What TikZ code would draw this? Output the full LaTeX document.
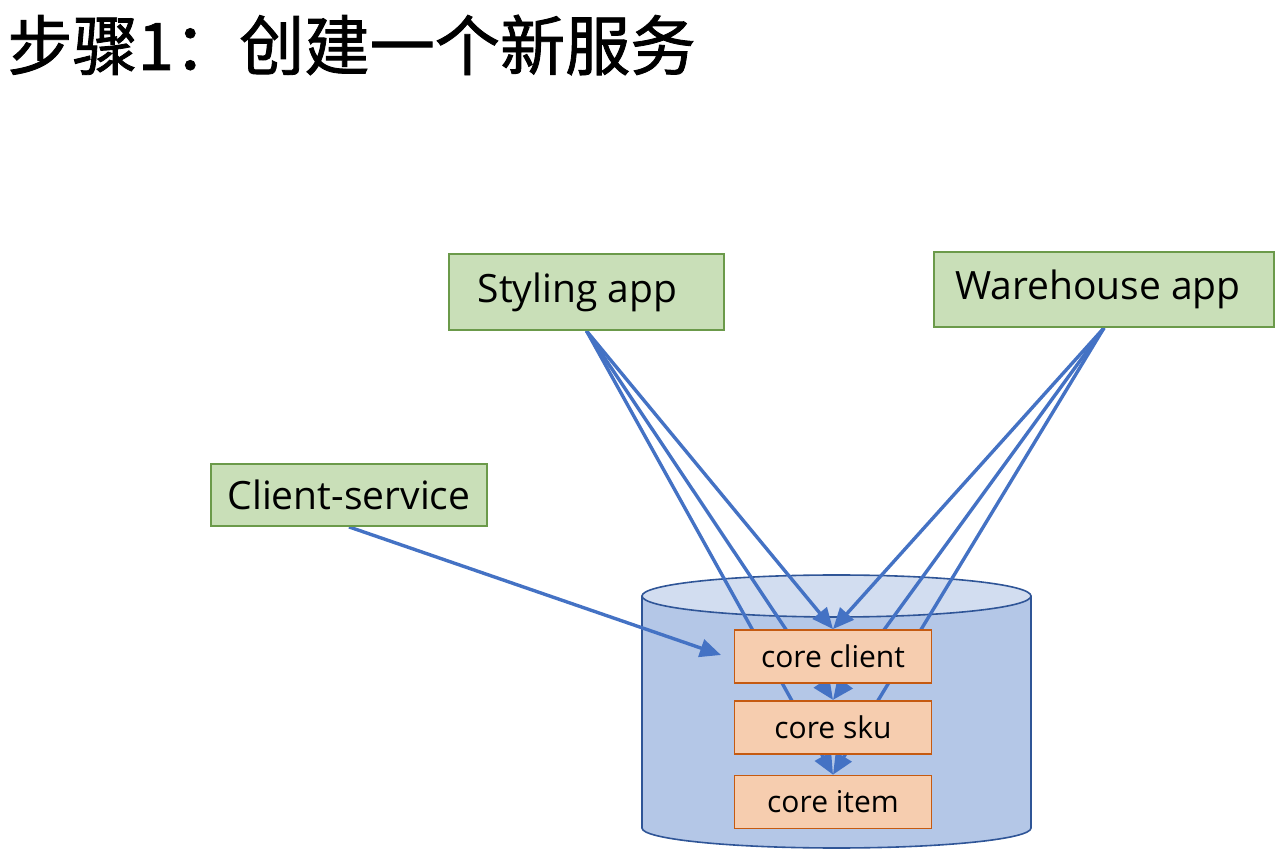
\documentclass[tikz,border=0pt]{standalone}
\usepackage{fontspec}
\setmainfont{Open Sans}
\newfontfamily\cjk[FakeBold=1.3]{Noto Sans CJK SC}
\usetikzlibrary{arrows.meta,positioning,backgrounds}
\definecolor{appfill}{HTML}{C9DFB8}
\definecolor{appline}{HTML}{6B9A4A}
\definecolor{corefill}{HTML}{F6CDAF}
\definecolor{coreline}{HTML}{C55A11}
\definecolor{cylbody}{HTML}{B4C7E7}
\definecolor{cyltop}{HTML}{D2DDF0}
\definecolor{cylline}{HTML}{2F5597}
\definecolor{linkblue}{HTML}{4472C4}

\begin{document}
\begin{tikzpicture}[x=0.5pt,y=-0.5pt,>={Triangle[length=10.5pt,width=9pt]},
    app/.style={draw=appline,fill=appfill,line width=0.9pt,inner sep=0pt,font=\fontsize{19.5}{22}\selectfont},
    core/.style={draw=coreline,fill=corefill,line width=0.9pt,minimum width=98.5pt,minimum height=26.5pt,inner sep=0pt,font=\fontsize{15}{18}\selectfont},
    link/.style={linkblue,line width=1.7pt}]

    \useasboundingbox (0,0) rectangle (1286,860);

    \node[anchor=west,inner sep=0pt,font=\cjk\fontsize{32.6}{38}\selectfont] (title) at (7,45) {步骤1：创建一个新服务};

    \node[app,minimum width=137.5pt,minimum height=38pt] (sty) at (586.5,292) {Styling app\hspace*{9pt}};
    \node[app,minimum width=170pt,minimum height=37.5pt] (wh) at (1104,289.5) {Warehouse app\hspace*{6pt}};
    \node[app,minimum width=138pt,minimum height=31pt] (csv) at (349,495) {Client-service};

    \node[core] (cc) at (833,656.5) {core client};
    \node[core] (ck) [below=8pt of cc] {core sku};
    \node[core] (ci) [below=10pt of ck] {core item};

    \coordinate (cin) at (721,655);

    \begin{pgfonlayer}{background}
        % database
        \filldraw[fill=cylbody,draw=cylline,line width=0.8pt] (642,596) -- (642,828)
            arc[start angle=180,end angle=0,x radius=194.5,y radius=20] -- (1031,596);
        \filldraw[fill=cyltop,draw=cylline,line width=0.8pt] (836.5,596) ellipse[x radius=194.5,y radius=21];

        \path[link,->] (sty.south) edge (cc.north)
                                   edge (ck.north)
                                   edge (ci.north)
                       (wh.south)  edge (cc.north)
                                   edge (ck.north)
                                   edge (ci.north)
                       (csv.south) edge (cin);
    \end{pgfonlayer}

\end{tikzpicture}
\end{document}
